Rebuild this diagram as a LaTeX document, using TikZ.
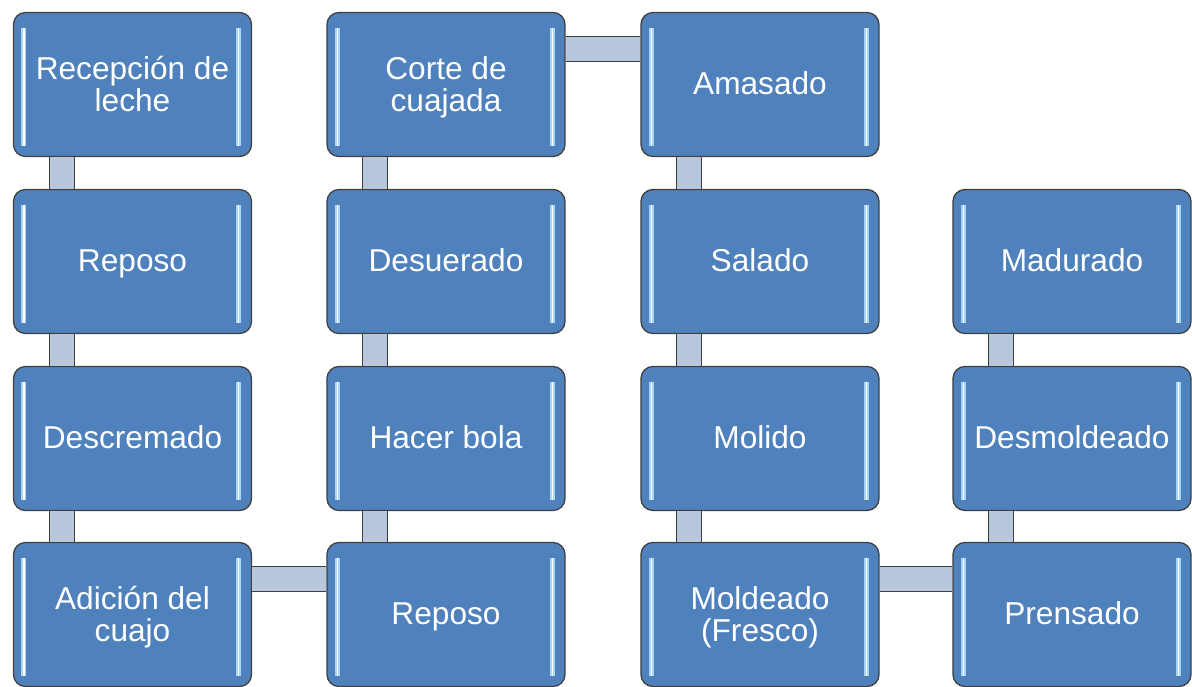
\documentclass[tikz,border=0pt]{standalone}
\usepackage{fontspec}
\setmainfont{Liberation Sans}

\definecolor{stepblue}{HTML}{4F81BD}
\definecolor{bargrey}{HTML}{B9C7DD}
\definecolor{edgegrey}{HTML}{3F3F3F}
\definecolor{glintblue}{HTML}{A9D6F8}

\newcommand{\lowline}{\rule{0pt}{22.4pt}}

\tikzset{
  glint/.style={draw=glintblue, line width=1.3pt, double=white, double distance=1pt},
  stepbox/.style={draw=edgegrey, line width=0.9pt, fill=stepblue, rounded corners=0.3cm,
    minimum width=5.95cm, minimum height=3.6cm, inner sep=2pt,
    text=white, align=center, font=\fontsize{22.5}{23}\selectfont,
    execute at begin node=\rule{0pt}{21.8pt}, execute at end node=\strut,
    path picture={
      \draw[glint] ([shift={(0.26cm,-0.38cm)}]path picture bounding box.north west)
        -- ([shift={(0.26cm,0.26cm)}]path picture bounding box.south west);
      \draw[glint] ([shift={(-0.32cm,-0.38cm)}]path picture bounding box.north east)
        -- ([shift={(-0.32cm,0.26cm)}]path picture bounding box.south east);
    }},
  bar/.style={draw=edgegrey, line width=0.8pt, double=bargrey, double distance=0.6cm}
}

\begin{document}
\begin{tikzpicture}[x=0.025cm, y=-0.025cm]
  % picture from (0,0) to (1192,686), y grows downwards
  \useasboundingbox (0,0) rectangle (1192,686);

  % first column
  \node[stepbox] (recepcion) at (132.5,84.5) {\lowline Recepción de\\leche};
  \node[stepbox] (reposoA) at (132.5,261.5) {Reposo};
  \node[stepbox] (descremado) at (132.5,438.5) {Descremado};
  \node[stepbox] (adicion) at (132.5,614.5) {\lowline Adición del\\cuajo};

  % second column
  \node[stepbox] (corte) at (446,84.5) {\lowline Corte de\\cuajada};
  \node[stepbox] (desuerado) at (446,261.5) {Desuerado};
  \node[stepbox] (hacerbola) at (446,438.5) {Hacer bola};
  \node[stepbox] (reposoB) at (446,614.5) {Reposo};

  % third column
  \node[stepbox] (amasado) at (760,84.5) {Amasado};
  \node[stepbox] (salado) at (760,261.5) {Salado};
  \node[stepbox] (molido) at (760,438.5) {Molido};
  \node[stepbox] (moldeado) at (760,614.5) {\lowline Moldeado\\(Fresco)};

  % fourth column
  \node[stepbox] (madurado) at (1072,261.5) {Madurado};
  \node[stepbox] (desmoldeado) at (1072,438.5) {Desmoldeado};
  \node[stepbox] (prensado) at (1072,614.5) {Prensado};

  % vertical links
  \foreach \a/\b in {recepcion/reposoA, reposoA/descremado, descremado/adicion,
                     corte/desuerado, desuerado/hacerbola, hacerbola/reposoB,
                     amasado/salado, salado/molido, molido/moldeado,
                     madurado/desmoldeado, desmoldeado/prensado}
    \draw[bar] ([shift={(49,0)}]\a.south west) -- ([shift={(49,0)}]\b.north west);

  % horizontal links
  \foreach \a/\b in {adicion/reposoB, corte/amasado, moldeado/prensado}
    \draw[bar] ([shift={(0,37)}]\a.north east) -- ([shift={(0,37)}]\b.north west);
\end{tikzpicture}
\end{document}
